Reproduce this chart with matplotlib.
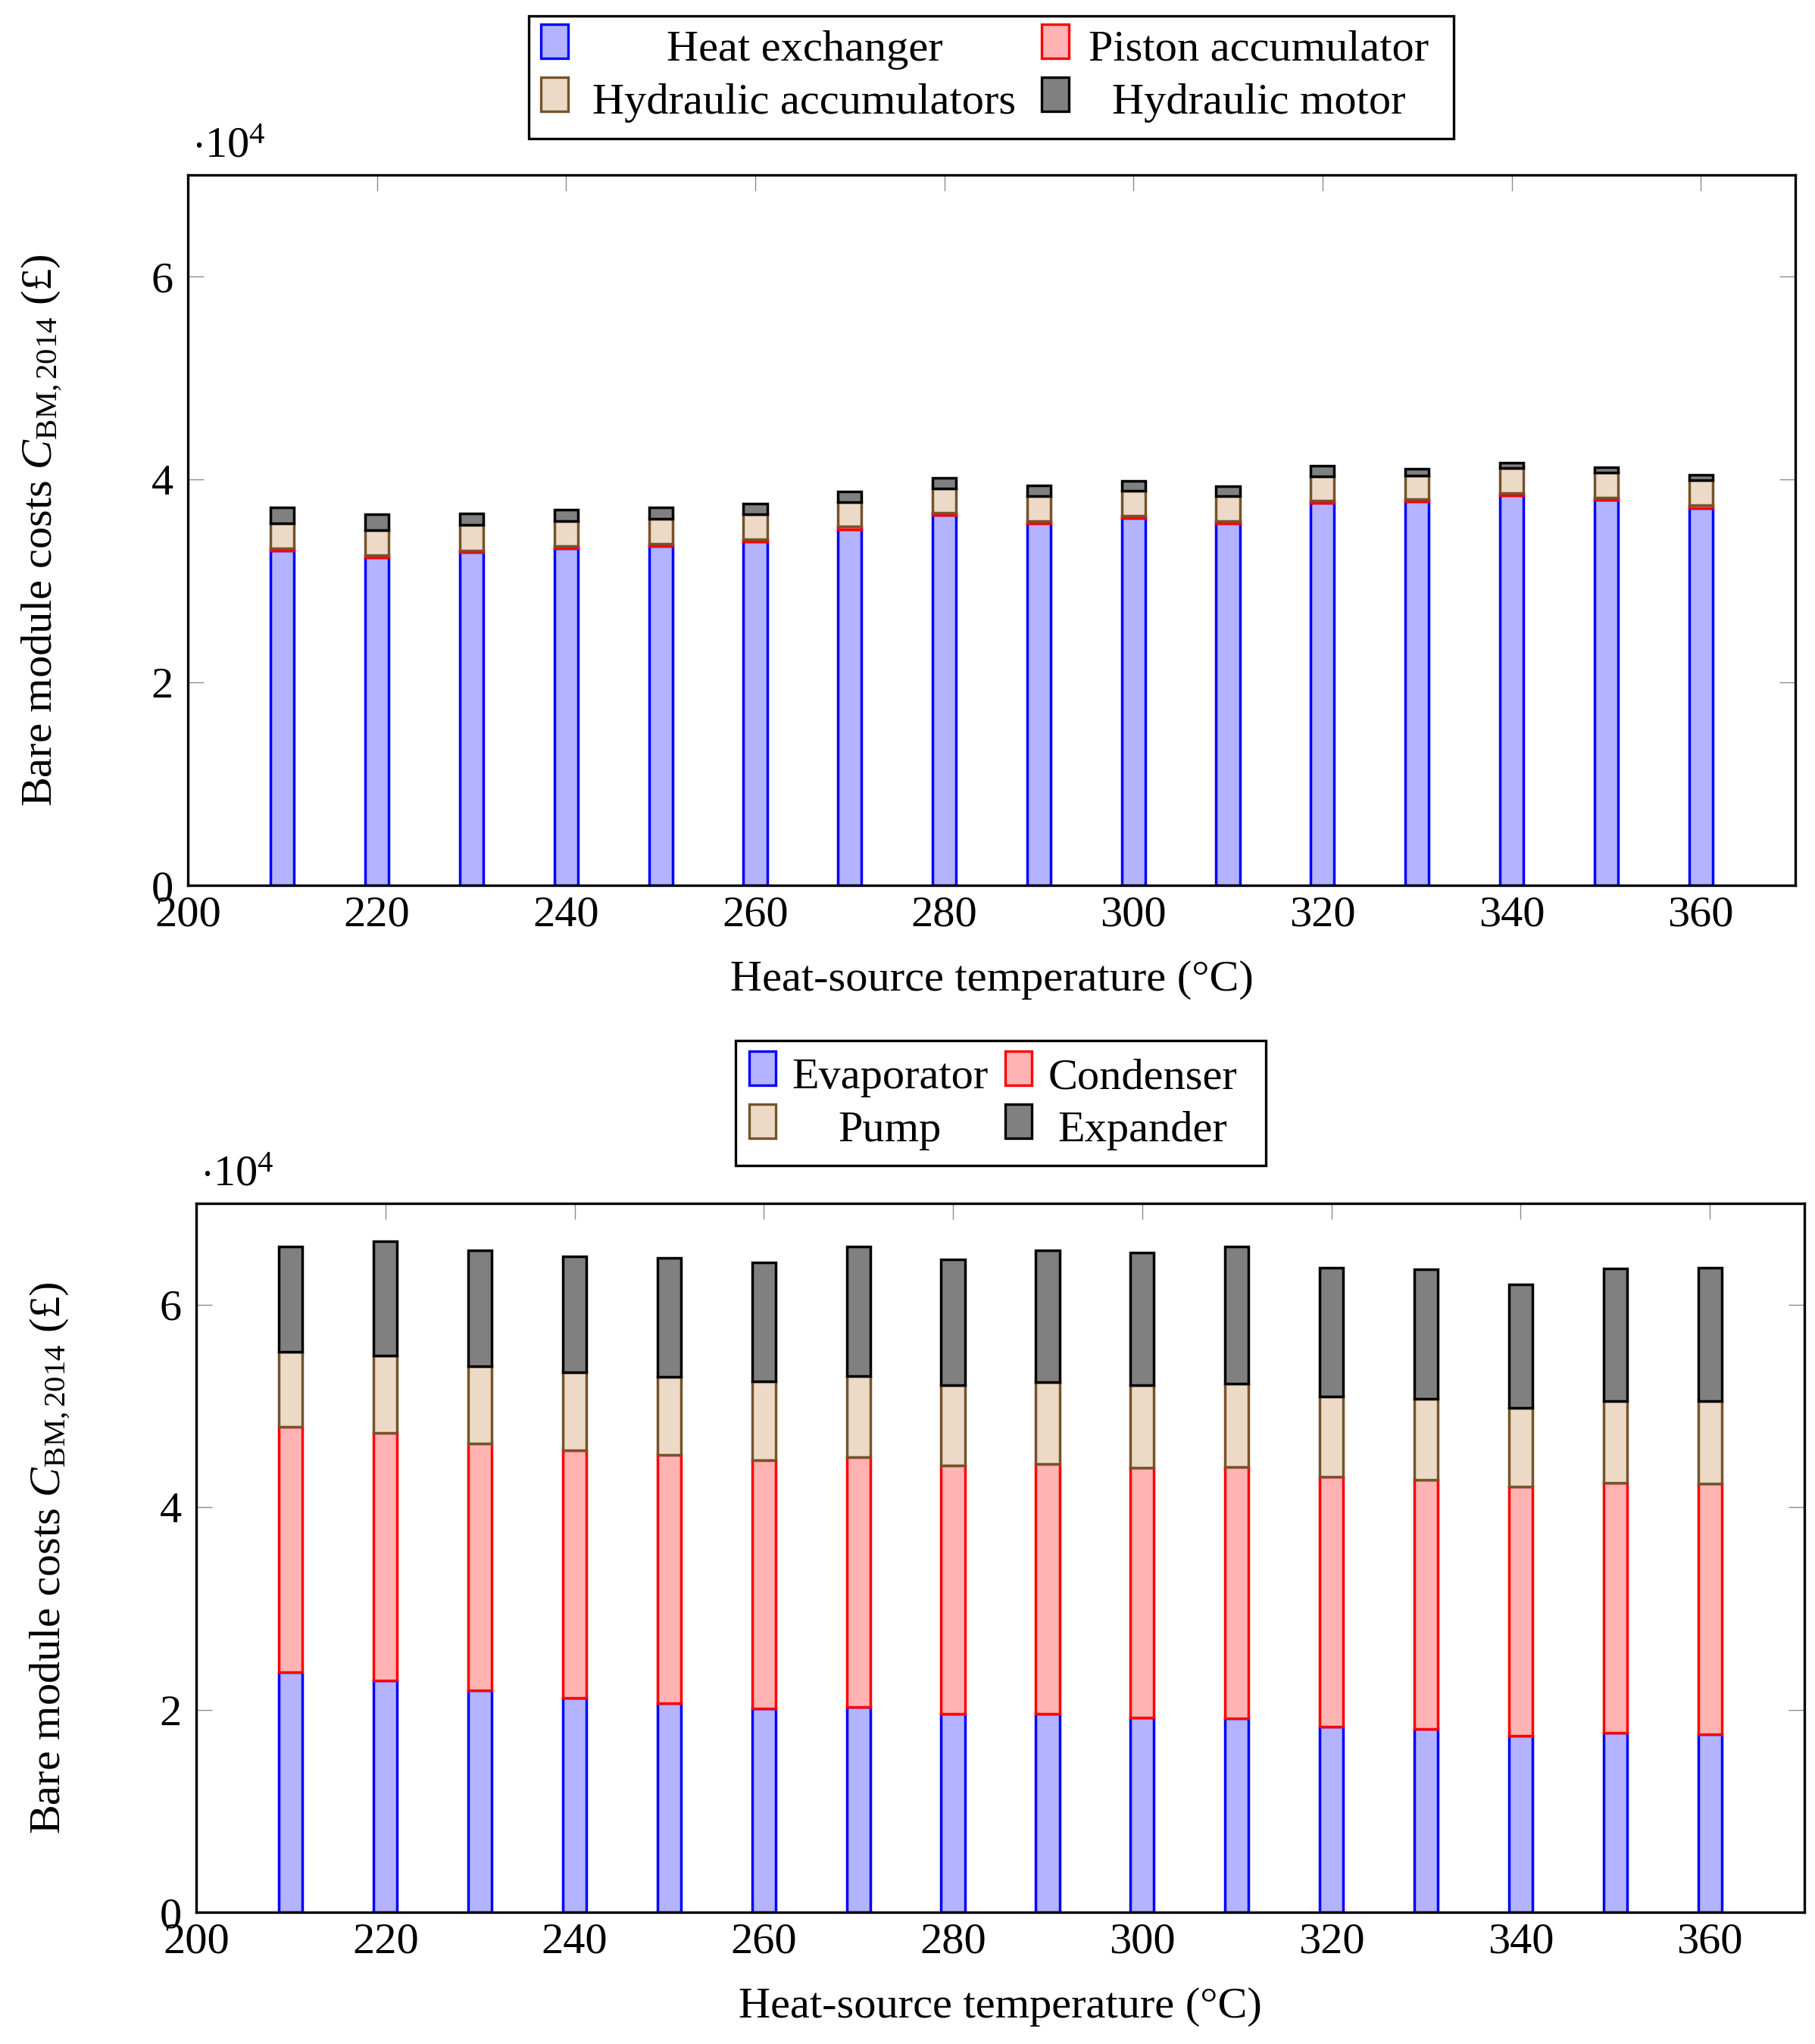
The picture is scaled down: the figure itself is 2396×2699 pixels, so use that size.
import matplotlib
matplotlib.use("Agg")
import matplotlib.pyplot as plt
from matplotlib.patches import Rectangle
import numpy as np

plt.rcParams['font.family'] = ['Liberation Serif', 'DejaVu Serif']
plt.rcParams['mathtext.fontset'] = 'custom'
plt.rcParams['mathtext.rm'] = 'Liberation Serif'
plt.rcParams['mathtext.it'] = 'Liberation Serif:italic'

# ---------------- data (units of 10^4 GBP) ----------------
temps = [210, 220, 230, 240, 250, 260, 270, 280, 290, 300, 310, 320, 330, 340, 350, 360]

heat_exchanger = [3.30, 3.23, 3.28, 3.32, 3.34, 3.39, 3.51, 3.65, 3.57, 3.62, 3.57, 3.77, 3.78, 3.84, 3.80, 3.72]
piston_accumulator = [0.022, 0.022, 0.022, 0.022, 0.022, 0.024, 0.024, 0.022, 0.023, 0.022, 0.023, 0.022, 0.024, 0.024, 0.022, 0.024]
hydraulic_accumulators = [0.246, 0.25, 0.25, 0.25, 0.25, 0.245, 0.245, 0.24, 0.24, 0.245, 0.242, 0.24, 0.237, 0.247, 0.247, 0.245]
hydraulic_motor = [0.155, 0.156, 0.11, 0.11, 0.11, 0.10, 0.105, 0.105, 0.105, 0.10, 0.10, 0.10, 0.06, 0.053, 0.053, 0.055]

evaporator = [2.374, 2.292, 2.19, 2.115, 2.065, 2.013, 2.028, 1.96, 1.958, 1.923, 1.915, 1.833, 1.808, 1.743, 1.773, 1.758]
condenser = [2.418, 2.44, 2.438, 2.445, 2.449, 2.449, 2.466, 2.45, 2.47, 2.467, 2.481, 2.467, 2.462, 2.457, 2.465, 2.472]
pump = [0.743, 0.763, 0.767, 0.771, 0.774, 0.778, 0.80, 0.795, 0.809, 0.818, 0.824, 0.796, 0.803, 0.784, 0.809, 0.815]
expander = [1.036, 1.128, 1.139, 1.148, 1.177, 1.179, 1.283, 1.243, 1.302, 1.306, 1.357, 1.271, 1.274, 1.214, 1.309, 1.319]

top_labels = ["Heat exchanger", "Piston accumulator", "Hydraulic accumulators", "Hydraulic motor"]
bottom_labels = ["Evaporator", "Condenser", "Pump", "Expander"]
xticks = [200, 220, 240, 260, 280, 300, 320, 340, 360]
yticks = [0, 2, 4, 6]

# ---------------- styles ----------------
FILLS = ['#b3b3ff', '#ffb3b3', '#ecdac6', '#808080']
EDGES = ['#0000ff', '#ff0000', '#75532b', '#000000']
FS = 42

W, H = 2396, 2699
fig = plt.figure(figsize=(W / 100, H / 100), dpi=100)


def fx(px):
    return px / W


def fy(py):
    return 1 - py / H


def make_axes(left, top, right, bottom):
    return fig.add_axes([fx(left), fy(bottom), fx(right) - fx(left), fy(top) - fy(bottom)])


def style_axes(ax):
    ax.set_xlim(200, 370)
    ax.set_ylim(0, 7)
    ax.set_xticks(xticks)
    ax.set_yticks(yticks)
    ax.set_xticklabels([str(t) for t in xticks])
    ax.set_yticklabels([str(t) for t in yticks])
    ax.tick_params(direction='in', length=15, width=1.0, color='#8c8c8c',
                   top=True, right=True, labelsize=FS, pad=10)
    ax.tick_params(axis='y', pad=14)
    for s in ax.spines.values():
        s.set_linewidth(2.4)
    ax.set_xlabel('Heat-source temperature (°C)', fontsize=FS, labelpad=24)
    ax.set_ylabel(r'Bare module costs $C_{\mathrm{BM,2014}}$ (£)', fontsize=FS, labelpad=82)
    ax.text(0.003, 1.012, r'$\cdot10^{4}$', transform=ax.transAxes, fontsize=FS,
            ha='left', va='bottom')


def stack(ax, series):
    bottom = np.zeros(len(temps))
    for vals, fc, ec in zip(series, FILLS, EDGES):
        vals = np.asarray(vals)
        ax.bar(temps, vals, width=2.5, bottom=bottom, color=fc, edgecolor=ec,
               linewidth=2.5, zorder=2)
        bottom = bottom + vals


def legend(box, handles_x, rows_y, text_cx, labels, hw, hh):
    x0, y0, x1, y1 = box
    fig.patches.append(Rectangle((fx(x0), fy(y1)), fx(x1) - fx(x0), fy(y0) - fy(y1),
                                 transform=fig.transFigure, fill=False,
                                 edgecolor='black', linewidth=2.4))
    k = 0
    for r, (hy, base) in enumerate(rows_y):
        for c in range(2):
            hx = handles_x[c]
            fig.patches.append(Rectangle((fx(hx), fy(hy + hh)), fx(hw), hh / H,
                                         transform=fig.transFigure,
                                         facecolor=FILLS[k], edgecolor=EDGES[k],
                                         linewidth=2.4))
            fig.text(fx(text_cx[c]), fy(base), labels[k], fontsize=FS,
                     ha='center', va='baseline')
            k += 1


# ---------------- top chart ----------------
ax1 = make_axes(248, 231, 2370, 1169)
stack(ax1, [heat_exchanger, piston_accumulator, hydraulic_accumulators, hydraulic_motor])
style_axes(ax1)
legend((698, 21, 1919, 183), [714, 1375], [(32, 80), (102, 150)], [1062, 1662],
       top_labels, 36, 45)

# ---------------- bottom chart ----------------
ax2 = make_axes(259, 1589, 2382, 2525)
stack(ax2, [evaporator, condenser, pump, expander])
style_axes(ax2)
legend((971, 1374, 1671, 1539), [989, 1327], [(1388, 1437), (1458, 1507)], [1175, 1508],
       bottom_labels, 35, 45)

fig.savefig('out.png', dpi=100)
